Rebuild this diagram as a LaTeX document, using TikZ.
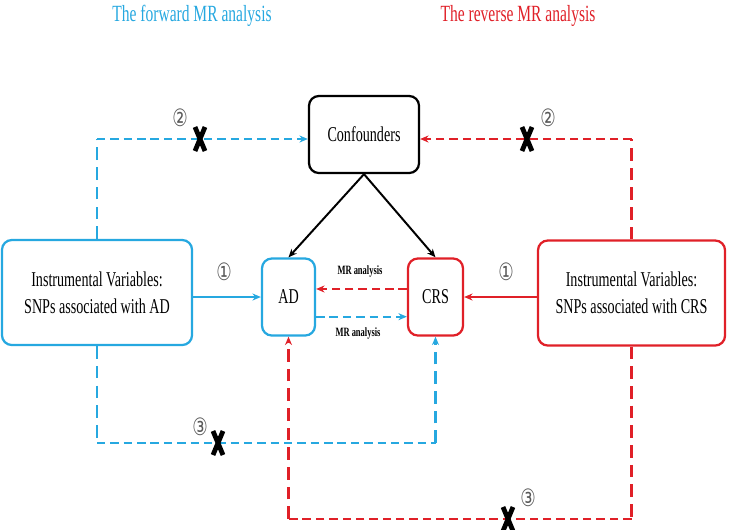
\documentclass[tikz,border=0pt]{standalone}
\usepackage{fontspec}
\setmainfont{Liberation Serif}[FakeStretch=0.67]
\newfontfamily\circfont{DejaVu Sans}[FakeStretch=0.72]
\usetikzlibrary{arrows.meta}
\definecolor{fwdblue}{RGB}{38,168,224}
\definecolor{revred}{RGB}{224,32,40}

\begin{document}
\begin{tikzpicture}[x=0.025cm, y=-0.025cm, >={Stealth[length=6pt,width=5pt]},
    box/.style={draw, line width=1.6pt, rounded corners=7pt, align=center, inner sep=0pt, font=\fontsize{15}{19}\selectfont},
    fwd/.style={fwdblue, line width=1.6pt},
    rev/.style={revred, line width=1.6pt},
    hdash/.style={dash pattern=on 6pt off 3.5pt},
    vdash/.style={dash pattern=on 9pt off 5pt},
    numlabel/.style={gray!70!black, font=\circfont\fontsize{17}{17}\selectfont, inner sep=0pt},
    mrlabel/.style={font=\bfseries\fontsize{9}{10}\selectfont, inner sep=1pt},
    crossmark/.style={black, line width=3.4pt}]
    \useasboundingbox (0,0) rectangle (729,529);

    % Titles
    \node[fwdblue, font=\fontsize{16.5}{19}\selectfont] (tfwd) at (192,16) {The forward MR analysis};
    \node[revred, font=\fontsize{16.5}{19}\selectfont] (trev) at (518,16) {The reverse MR analysis};

    % Boxes
    \node[box, draw=black, minimum width=2.75cm, minimum height=1.925cm] (conf) at (364,134.5) {Confounders};
    \node[box, draw=fwdblue, minimum width=4.75cm, minimum height=2.625cm] (ivAD) at (97,292.5) {Instrumental Variables:\\SNPs associated with AD};
    \node[box, draw=revred, minimum width=4.675cm, minimum height=2.625cm] (ivCRS) at (631.5,293) {Instrumental Variables:\\SNPs associated with CRS};
    \node[box, draw=fwdblue, minimum width=1.325cm, minimum height=1.925cm] (AD) at (288.5,297) {AD};
    \node[box, draw=revred, minimum width=1.375cm, minimum height=1.925cm] (CRS) at (435.5,297) {CRS};

    % Confounders to exposure / outcome
    \draw[->, line width=1.4pt] (conf.south) -- (AD.north);
    \draw[->, line width=1.4pt] (conf.south) -- (CRS.north);

    % Path 1
    \draw[fwd, ->] (ivAD.east |- AD.west) -- (AD.west);
    \draw[rev, ->] (ivCRS.west |- CRS.east) -- (CRS.east);
    \node[numlabel] (n1f) at (224,272) {①};
    \node[numlabel] (n1r) at (506,272) {①};

    % MR analysis between AD and CRS
    \draw[rev, hdash, ->] ([yshift=5.7pt]CRS.west) -- ([yshift=5.7pt]AD.east);
    \draw[fwd, hdash, ->] ([yshift=-14pt]AD.east) -- ([yshift=-14pt]CRS.west);
    \node[mrlabel] (mrtop) at (360,271) {MR analysis};
    \node[mrlabel] (mrbot) at (358,333) {MR analysis};

    % Path 2
    \coordinate (top2) at (0,139);
    \draw[fwd, vdash] (ivAD.north) -- (ivAD.north |- top2);
    \draw[fwd, hdash, ->] (ivAD.north |- top2) -- (conf.west |- top2);
    \draw[rev, vdash] (ivCRS.north) -- (ivCRS.north |- top2);
    \draw[rev, hdash, ->] (ivCRS.north |- top2) -- (conf.east |- top2);
    \node[numlabel] (n2f) at (180,118) {②};
    \node[numlabel] (n2r) at (548,118) {②};

    % Path 3
    \coordinate (bot3f) at (0,443);
    \coordinate (bot3r) at (0,519);
    \draw[fwd, vdash] (ivAD.south) -- (ivAD.south |- bot3f);
    \draw[fwd, hdash] (ivAD.south |- bot3f) -- (CRS.south |- bot3f);
    \draw[fwd, vdash, ->] (CRS.south |- bot3f) -- (CRS.south);
    \draw[rev, vdash] (ivCRS.south) -- (ivCRS.south |- bot3r);
    \draw[rev, hdash] (ivCRS.south |- bot3r) -- (AD.south |- bot3r);
    \draw[rev, vdash, ->] (AD.south |- bot3r) -- (AD.south);
    \node[numlabel] (n3f) at (200,427) {③};
    \node[numlabel] (n3r) at (528,498) {③};

    % Crosses
    \draw[crossmark] (200,139) ++(-5,-12) -- ++(10,24) ++(0,-24) -- ++(-10,24);
    \draw[crossmark] (527,139) ++(-5,-12) -- ++(10,24) ++(0,-24) -- ++(-10,24);
    \draw[crossmark] (218,443) ++(-5,-12) -- ++(10,24) ++(0,-24) -- ++(-10,24);
    \draw[crossmark] (508,519) ++(-5,-12) -- ++(10,24) ++(0,-24) -- ++(-10,24);
\end{tikzpicture}
\end{document}
